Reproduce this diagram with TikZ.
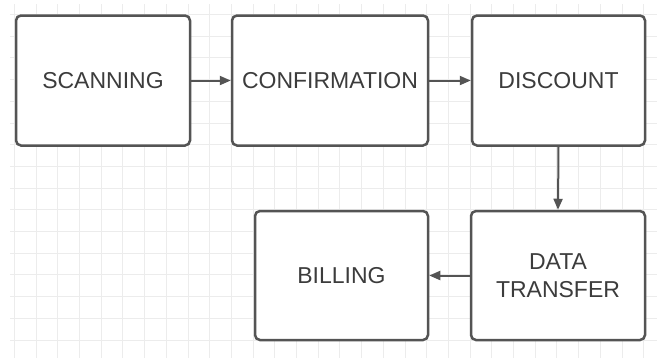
\documentclass[tikz,border=0pt]{standalone}
\usepackage{fontspec}
\setmainfont{Liberation Sans}
\usetikzlibrary{arrows.meta}
\definecolor{edge}{HTML}{545454}
\definecolor{label}{HTML}{3C3C3C}
\definecolor{gridline}{HTML}{ECECEC}
\tikzset{
  stepbox/.style={draw=edge, line width=2.5pt, rounded corners=5pt, fill=white,
    minimum width=#1, minimum height=130pt, text=label, align=center,
    font=\fontsize{23}{28}\selectfont, inner sep=0pt},
  stepbox/.default=174pt,
  flow/.style={draw=edge, line width=2pt, -{Triangle[length=11pt,width=9pt]}}
}
\begin{document}
\begin{tikzpicture}[x=1pt,y=-1pt]
  \useasboundingbox (0,0) rectangle (657,360);
  \fill[white] (0,0) rectangle (657,360);
  % faint background grid
  \foreach \i in {0,...,29} {
    \draw[gridline, line width=0.8pt] ({14.3+21.7*\i},4) -- ({14.3+21.7*\i},358);
  }
  \foreach \j in {0,...,15} {
    \draw[gridline, line width=0.8pt] (10,{14.4+21.7*\j}) -- (657,{14.4+21.7*\j});
  }
  % process steps
  \node[stepbox] (scan) at (103,80.5) {SCANNING};
  \node[stepbox=196pt] (conf) at (330,80.5) {CONFIRMATION};
  \node[stepbox=173pt] (disc) at (558.5,80.5) {DISCOUNT};
  \node[stepbox, minimum height=129pt] (data) at (558,275.5) {DATA\\TRANSFER};
  \node[stepbox=173pt, minimum height=129pt] (bill) at (341.5,275.5) {BILLING};
  % connectors
  \draw[flow] (scan.east) -- (conf.west);
  \draw[flow] (conf.east) -- (disc.west);
  \draw[flow] (disc.south) -- (data.north);
  \draw[flow] (data.west) -- (bill.east);
\end{tikzpicture}
\end{document}
